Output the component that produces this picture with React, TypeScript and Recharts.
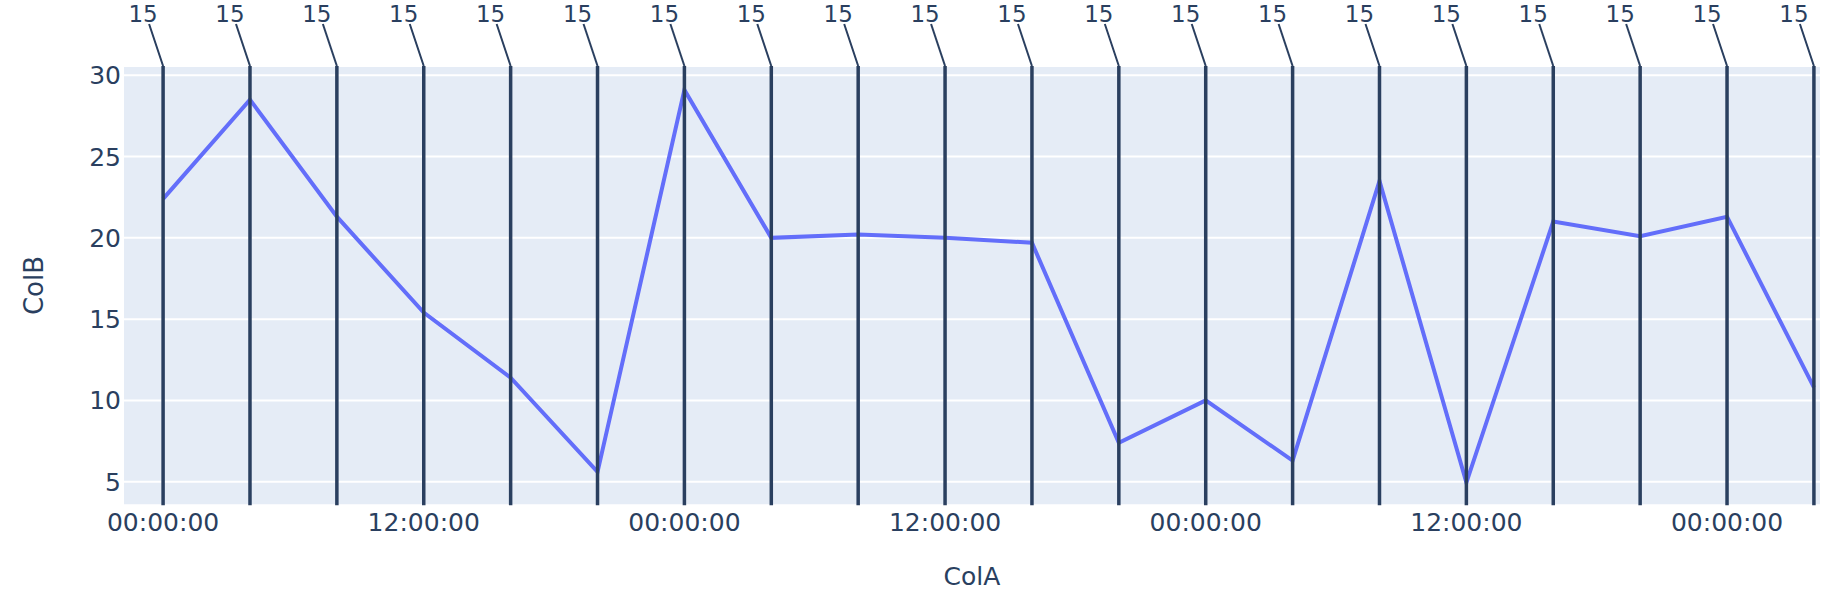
import { LineChart, Line, XAxis, YAxis, CartesianGrid, ReferenceLine } from 'recharts';

// ColA as hours since the first timestamp (one sample every 4h)
const hours = [0, 4, 8, 12, 16, 20, 24, 28, 32, 36, 40, 44, 48, 52, 56, 60, 64, 68, 72, 76];
const colB = [22.4, 28.5, 21.3, 15.4, 11.4, 5.6, 29.1, 20.0, 20.2, 20.0, 19.7, 7.4, 10.0, 6.3, 23.5, 4.95, 21.0, 20.1, 21.3, 10.8];
// value shown in the annotation above each vertical marker
const markerLabels = ['15', '15', '15', '15', '15', '15', '15', '15', '15', '15', '15', '15', '15', '15', '15', '15', '15', '15', '15', '15'];

const tickHours = [0, 12, 24, 36, 48, 60, 72];
const tickLabels = ['00:00:00', '12:00:00', '00:00:00', '12:00:00', '00:00:00', '12:00:00', '00:00:00'];
const yTicks = [5, 10, 15, 20, 25, 30];

const INK = '#2a3f5f';
const FONT = '"DejaVu Sans", Verdana, sans-serif';

const data = hours.map((h, i) => ({ hour: h, colB: colB[i] }));

function ArrowLabel({ viewBox, text }: any) {
    const { x, y } = viewBox;
    return (
        <g>
            <line x1={x - 14} y1={y - 42} x2={x} y2={y} stroke={INK} strokeWidth={2} />
            <text x={x - 20} y={y - 44.5} textAnchor="middle" fontSize={23} fontFamily={FONT} fill={INK}>
                {text}
            </text>
        </g>
    );
}

function XTick({ x, y, payload }: any) {
    const idx = tickHours.indexOf(payload.value);
    return (
        <text x={x} y={y + 26} textAnchor="middle" fontSize={25} fontFamily={FONT} fill={INK}>
            {tickLabels[idx]}
        </text>
    );
}

function YTick({ x, y, payload }: any) {
    return (
        <text x={x - 3} y={y + 9} textAnchor="end" fontSize={25} fontFamily={FONT} fill={INK}>
            {payload.value}
        </text>
    );
}

export default function App() {
    return (
        <div style={{ position: 'absolute', left: 0, top: 0, width: 1844, height: 590, background: '#fff' }}>
            <LineChart width={1844} height={590} data={data} margin={{ top: 66, right: 24, left: 64, bottom: 54.7 }}>
                <CartesianGrid vertical={false} fill="#e5ecf6" stroke="#ffffff" strokeWidth={2} />
                <XAxis
                    dataKey="hour"
                    type="number"
                    domain={[-1.8, 76.28]}
                    ticks={tickHours}
                    allowDataOverflow
                    height={30}
                    axisLine={false}
                    tickLine={false}
                    tickSize={0}
                    tickMargin={0}
                    tick={<XTick />}
                    label={() => (
                        <text x={972} y={585} textAnchor="middle" fontSize={25} fontFamily={FONT} fill={INK}>
                            ColA
                        </text>
                    )}
                />
                <YAxis
                    type="number"
                    domain={[3.55, 30.57]}
                    ticks={yTicks}
                    allowDataOverflow
                    width={60}
                    axisLine={false}
                    tickLine={false}
                    tickSize={0}
                    tickMargin={0}
                    tick={<YTick />}
                    label={() => (
                        <text
                            x={43}
                            y={285.5}
                            transform="rotate(-90, 43, 285.5)"
                            textAnchor="middle"
                            fontSize={26}
                            fontFamily={FONT}
                            fill={INK}
                        >
                            ColB
                        </text>
                    )}
                />
                <Line
                    type="linear"
                    dataKey="colB"
                    stroke="#636efa"
                    strokeWidth={4}
                    dot={false}
                    activeDot={false}
                    isAnimationActive={false}
                />
                {hours.map((h, i) => (
                    <ReferenceLine
                        key={h}
                        x={h}
                        stroke={INK}
                        strokeWidth={3.5}
                        label={(props: any) => <ArrowLabel {...props} text={markerLabels[i]} />}
                    />
                ))}
            </LineChart>
        </div>
    );
}
